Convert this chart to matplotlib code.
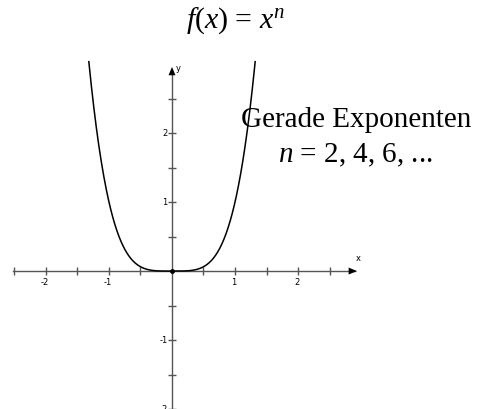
import numpy as np
import matplotlib.pyplot as plt

plt.rcParams["mathtext.fontset"] = "custom"
plt.rcParams["mathtext.rm"] = "Liberation Serif"
plt.rcParams["mathtext.it"] = "Liberation Serif:italic"

# function shown: f(x) = x^n with an even exponent
exponent = 4
x_range = (-1.32, 1.32)

x_ticks = [-2.5, -2, -1.5, -1, -0.5, 0.5, 1, 1.5, 2, 2.5]
x_labels = {-2: "-2", -1: "-1", 1: "1", 2: "2"}
y_ticks = [-2, -1.5, -1, -0.5, 0.5, 1, 1.5, 2, 2.5]
y_labels = {-2: "-2", -1: "-1", 1: "1", 2: "2"}

fig = plt.figure(figsize=(4.78, 4.09), dpi=100)
ax = fig.add_axes([0, 0, 1, 1])
ax.set_xlim(-2.73, 4.857)
ax.set_ylim(-2.0, 3.93)
ax.axis("off")

axis_col = "#555555"
# axes with arrow heads
ax.plot([-2.53, 2.9], [0, 0], color=axis_col, lw=1.0)
ax.annotate("", xy=(2.98, 0), xytext=(2.85, 0),
            arrowprops=dict(arrowstyle="-|>,head_length=0.6,head_width=0.25",
                            color="black", lw=0))
ax.plot([0, 0], [-2.0, 2.92], color=axis_col, lw=1.0)
ax.annotate("", xy=(0, 3.0), xytext=(0, 2.85),
            arrowprops=dict(arrowstyle="-|>,head_length=0.6,head_width=0.25",
                            color="black", lw=0))

ax.plot(x_ticks, np.zeros(len(x_ticks)), ls="none", marker="|", ms=6,
        mew=1.0, color=axis_col)
ax.plot(np.zeros(len(y_ticks)), y_ticks, ls="none", marker="_", ms=6,
        mew=1.0, color=axis_col)

for v, s in x_labels.items():
    ax.annotate(s, (v, 0), xytext=(-1, -5), textcoords="offset points",
                ha="center", va="top", fontsize=6, family="DejaVu Sans")
for v, s in y_labels.items():
    ax.annotate(s, (0, v), xytext=(-3, 0), textcoords="offset points",
                ha="right", va="center", fontsize=6, family="DejaVu Sans")
ax.annotate("x", (2.95, 0), xytext=(0, 6), textcoords="offset points",
            ha="center", va="bottom", fontsize=6, family="DejaVu Sans")
ax.annotate("y", (0, 2.93), xytext=(3, 0), textcoords="offset points",
            ha="left", va="center", fontsize=6, family="DejaVu Sans")

xs = np.linspace(x_range[0], x_range[1], 400)
ax.plot(xs, xs ** exponent, color="black", lw=1.1)
ax.plot([0], [0], "o", color="black", ms=2.5)

serif = "Liberation Serif"
fig.text(0.492, 0.9315, r"$f$($x$) = $x^n$", ha="center", va="baseline",
         fontsize=21.5, family=serif)
fig.text(0.745, 0.6895, "Gerade Exponenten", ha="center", va="baseline",
         fontsize=21, family=serif)
fig.text(0.743, 0.6039, r"$n$ = 2, 4, 6, ...", ha="center", va="baseline",
         fontsize=21, family=serif)

fig.savefig("out.png", dpi=100)
